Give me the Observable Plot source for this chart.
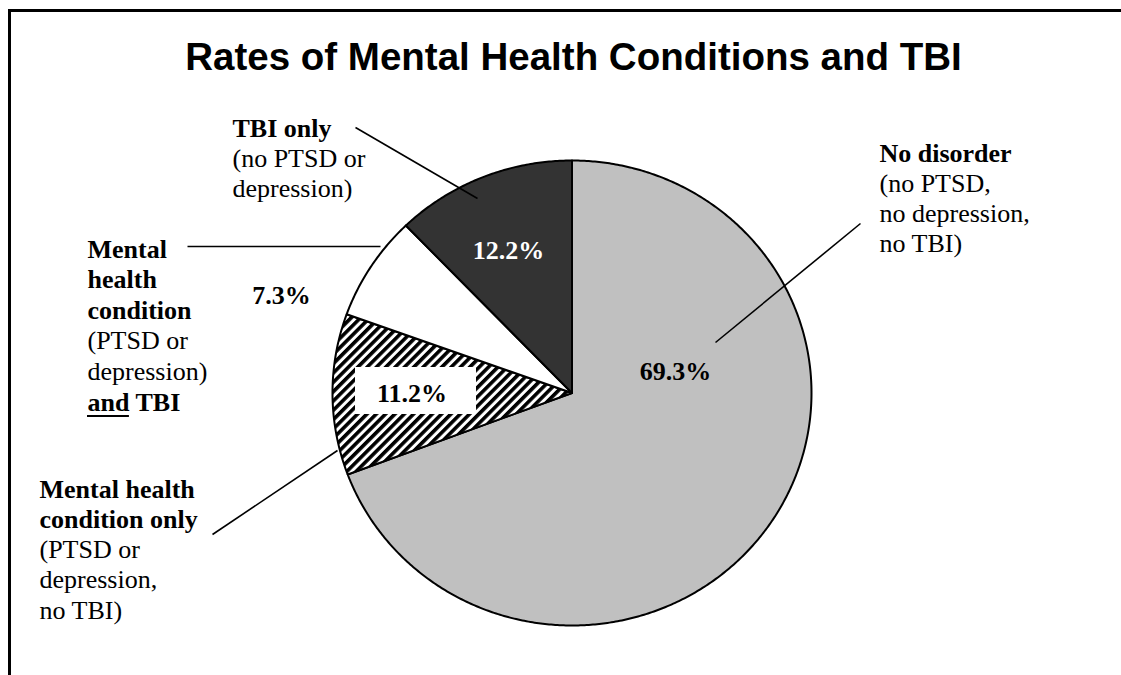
<!DOCTYPE html>
<html>
<head>
<meta charset="utf-8">
<script src="https://cdn.jsdelivr.net/npm/d3@7"></script>
<script src="https://cdn.jsdelivr.net/npm/@observablehq/plot@0.6"></script>
<style>
  html, body { margin: 0; padding: 0; background: #fff; overflow: hidden; }
  #page { position: relative; width: 1121px; height: 675px; overflow: hidden; }
  .edge { position: absolute; background: #000; pointer-events: none; }
  #edge-top { left: 8px; top: 9px; width: 1113px; height: 3px; }
  #edge-left { left: 8px; top: 9px; width: 3px; height: 666px; }
  #title {
    height: 96px; box-sizing: border-box; padding-top: 38px; padding-left: 26px;
    text-align: center; font: bold 38.5px "Liberation Sans", Arial, sans-serif;
    line-height: 1; color: #000;
  }
  #chart svg { display: block; }
</style>
</head>
<body>
<div id="page">
  <div class="edge" id="edge-top"></div>
  <div class="edge" id="edge-left"></div>
  <div id="title">Rates of Mental Health Conditions and TBI</div>
  <div id="chart"></div>
</div>
<script>
// ---- data ----
const categories = [
  "No disorder",
  "Mental health condition only",
  "Mental health condition and TBI",
  "TBI only"
];
const shares = [69.3, 11.2, 7.3, 12.2];
const shareLabels = ["69.3%", "11.2%", "7.3%", "12.2%"];

// slice descriptions, one entry per line: [text, bold]
const noDisorderLines = [["No disorder", true], ["(no PTSD,", false], ["no depression,", false], ["no TBI)", false]];
const mhOnlyLines = [["Mental health", true], ["condition only", true], ["(PTSD or", false], ["depression,", false], ["no TBI)", false]];
const mhTbiLines = [["Mental", true], ["health", true], ["condition", true], ["(PTSD or", false], ["depression)", false], ["and TBI", true]];
const tbiOnlyLines = [["TBI only", true], ["(no PTSD or", false], ["depression)", false]];
const descriptions = [noDisorderLines, mhOnlyLines, mhTbiLines, tbiOnlyLines];

// ---- styles ----
const sliceFills = ["#c0c0c0", "url(#hatch)", "#ffffff", "#333333"];
const serif = "Liberation Serif, Times New Roman, serif";

// ---- layout (page pixels) ----
const W = 1121, H = 675, TOP = 96;
const pie = {cx: 571.5, cy: 392.5, rx: 239.5, ry: 232.5};
const descAnchors = [
  {x: 879, y: 161, step: 30},
  {x: 39, y: 497, step: 30.3},
  {x: 87, y: 257, step: 30.6},
  {x: 232, y: 136, step: 30}
];
const shareAnchors = [{x: 675, y: 379}, {x: 411.5, y: 401}, {x: 281, y: 303}, {x: 508, y: 258}];
const leaders = [
  {x1: 860, y1: 223, x2: 715, y2: 342},
  {x1: 212, y1: 534, x2: 337, y2: 450},
  {x1: 187, y1: 246, x2: 380, y2: 246},
  {x1: 355, y1: 127, x2: 477, y2: 198}
];
const shareBox = {x1: 355, x2: 476, y1: 367, y2: 414};

// ---- pie geometry from the shares ----
const arcs = d3.pie().sort(null).value(d => d)(shares);
const slicePoints = [];
arcs.forEach((a, i) => {
  const cat = categories[i];
  slicePoints.push({cat, x: pie.cx, y: pie.cy});
  const n = Math.max(2, Math.ceil((a.endAngle - a.startAngle) / (Math.PI / 360)));
  for (let k = 0; k <= n; k++) {
    const t = a.startAngle + (a.endAngle - a.startAngle) * k / n;
    slicePoints.push({cat, x: pie.cx + pie.rx * Math.sin(t), y: pie.cy - pie.ry * Math.cos(t)});
  }
});

const shareRows = categories.map((cat, i) => ({cat, text: shareLabels[i], ...shareAnchors[i]}));

const descRows = [];
descriptions.forEach((lines, i) => {
  const a = descAnchors[i];
  lines.forEach(([text, bold], j) => descRows.push({text, bold, x: a.x, y: a.y + j * a.step}));
});

// underline under the word "and"
const ctx = document.createElement("canvas").getContext("2d");
ctx.font = `bold 26px ${serif}`;
const andRow = descRows.find(d => d.text === "and TBI");
const andWidth = ctx.measureText("and").width;
const underline = [{x1: andRow.x, x2: andRow.x + andWidth, y: andRow.y + 5.5}];

const shareText = {
  x: "x", y: "y", text: "text", fontSize: 26, fontWeight: "bold",
  fontFamily: serif, textAnchor: "middle", lineAnchor: "bottom"
};

const chart = Plot.plot({
  width: W,
  height: H - TOP,
  margin: 0,
  x: {type: "linear", domain: [0, W], range: [0, W], axis: null},
  y: {type: "linear", domain: [TOP, H], range: [0, H - TOP], axis: null},
  color: {type: "ordinal", domain: categories, range: sliceFills},
  marks: [
    Plot.line(slicePoints, {
      x: "x", y: "y", z: "cat", fill: "cat",
      stroke: "#000", strokeWidth: 2, strokeLinejoin: "round", curve: "linear-closed"
    }),
    Plot.link(leaders, {x1: "x1", y1: "y1", x2: "x2", y2: "y2", stroke: "#000", strokeWidth: 1.6}),
    Plot.rect([shareBox], {x1: "x1", x2: "x2", y1: "y1", y2: "y2", fill: "#fff"}),
    Plot.text(shareRows.filter(d => d.cat !== "TBI only"), {...shareText, fill: "#000"}),
    Plot.text(shareRows.filter(d => d.cat === "TBI only"), {...shareText, fill: "#fff"}),
    Plot.text(descRows.filter(d => d.bold), {
      x: "x", y: "y", text: "text", fill: "#000", fontSize: 26, fontWeight: "bold",
      fontFamily: serif, textAnchor: "start", lineAnchor: "bottom"
    }),
    Plot.text(descRows.filter(d => !d.bold), {
      x: "x", y: "y", text: "text", fill: "#000", fontSize: 26,
      fontFamily: serif, textAnchor: "start", lineAnchor: "bottom"
    }),
    Plot.ruleY(underline, {x1: "x1", x2: "x2", y: "y", stroke: "#000", strokeWidth: 2})
  ]
});

// diagonal hatching used by the "condition only" slice
const defs = d3.create("svg:defs");
const pat = defs.append("pattern")
  .attr("id", "hatch")
  .attr("patternUnits", "userSpaceOnUse")
  .attr("width", 6.6).attr("height", 6.6)
  .attr("patternTransform", "rotate(45)");
pat.append("rect").attr("width", 6.6).attr("height", 6.6).attr("fill", "#fff");
pat.append("rect").attr("width", 3.6).attr("height", 6.6).attr("fill", "#000");
chart.insertBefore(defs.node(), chart.firstChild);

document.getElementById("chart").appendChild(chart);
</script>
</body>
</html>
